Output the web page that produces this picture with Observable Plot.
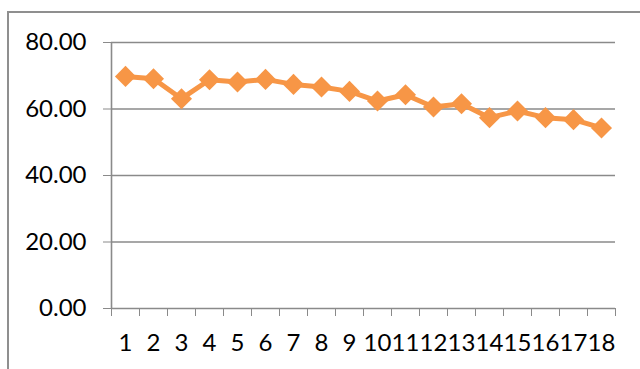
<!DOCTYPE html>
<html>
<head>
<meta charset="utf-8">
<script src="https://cdn.jsdelivr.net/npm/d3@7"></script>
<script src="https://cdn.jsdelivr.net/npm/@observablehq/plot@0.6"></script>
<style>
  html, body { margin: 0; padding: 0; background: #fff; width: 640px; height: 369px; overflow: hidden; }
  #wrap { position: relative; width: 640px; height: 369px; }
  #frame { position: absolute; left: 7px; top: 11px; width: 700px; height: 400px;
           border-top: 2px solid #8f8f8f; border-left: 2px solid #8f8f8f; pointer-events: none; }
  #chart svg { color: #8a8a8a; }
  #chart svg text { fill: #000; }
</style>
</head>
<body>
<div id="wrap"><div id="chart"></div><div id="frame"></div></div>
<script>
const categories = [1, 2, 3, 4, 5, 6, 7, 8, 9, 10, 11, 12, 13, 14, 15, 16, 17, 18];
const values = [69.8, 69.1, 63.1, 68.8, 68.1, 68.9, 67.4, 66.6, 65.3, 62.4, 64.3, 60.6, 61.6, 57.4, 59.4, 57.4, 56.8, 54.3];
const yTicks = [0, 20, 40, 60, 80];

const data = categories.map((c, i) => ({c, v: values[i]}));
const boundaries = d3.range(0, categories.length + 1).map(i => i + 0.5);
const orange = "#F79646";
const font = "Lato, 'Open Sans', sans-serif";

const plot = Plot.plot({
  width: 640,
  height: 369,
  marginLeft: 111,
  marginRight: 25,
  marginTop: 42,
  marginBottom: 61,
  style: {fontFamily: font, fontSize: "24px", background: "transparent", overflow: "visible"},
  x: {type: "linear", domain: [0.5, categories.length + 0.5], ticks: boundaries, tickSize: 8, tickFormat: () => "", label: null, line: false},
  y: {domain: [0, 80], ticks: yTicks, tickSize: 8, tickPadding: 17, tickFormat: d3.format(".2f"), label: null},
  marks: [
    Plot.ruleY(yTicks, {stroke: "#8a8a8a", strokeWidth: 1.6}),
    Plot.ruleX([0.5], {y1: 0, y2: 80, stroke: "#8a8a8a", strokeWidth: 1.6}),
    Plot.text(data, {x: "c", y: () => 0, text: d => String(d.c), dy: 35, fill: "#000", fontSize: 24}),
    Plot.line(data, {x: "c", y: "v", stroke: orange, strokeWidth: 5, strokeLinejoin: "round"}),
    Plot.dot(data, {x: "c", y: "v", symbol: "diamond2", r: 9.5, fill: orange, stroke: "none"})
  ]
});
document.getElementById("chart").appendChild(plot);
</script>
</body>
</html>
